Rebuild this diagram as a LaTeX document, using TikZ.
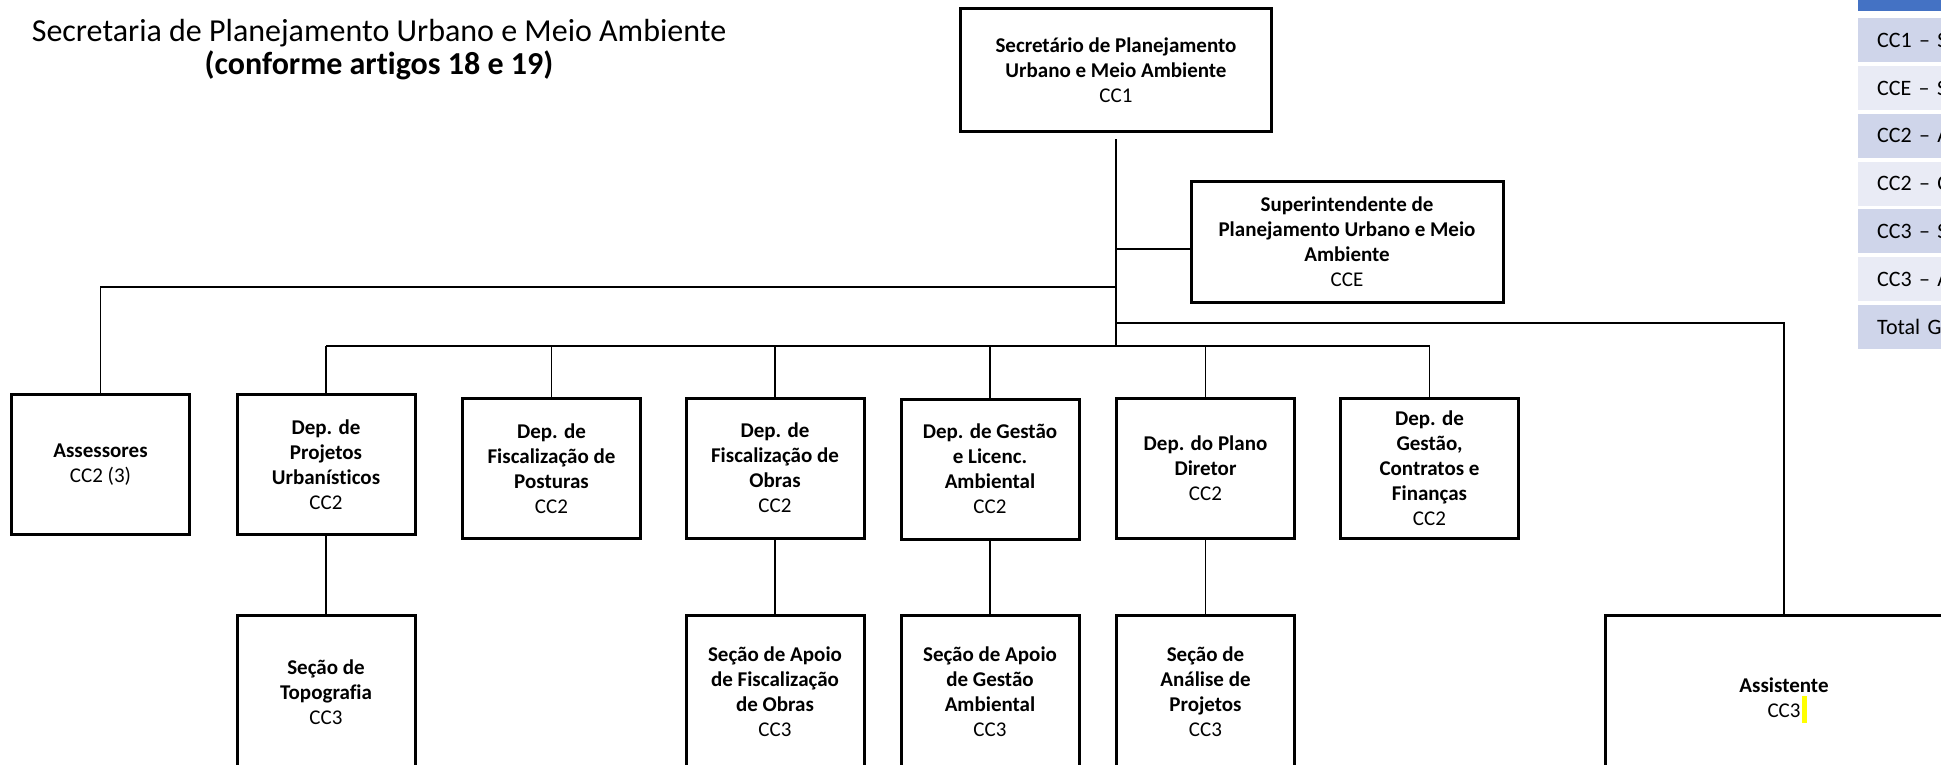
\documentclass[tikz,border=0pt]{standalone}
\usepackage{fontspec}
\setmainfont{Carlito}[Ligatures=CommonOff]
\usetikzlibrary{calc}

\definecolor{hdrblue}{HTML}{4472C4}
\definecolor{bandA}{HTML}{CFD5EA}
\definecolor{bandB}{HTML}{E9EBF5}
\definecolor{hlyellow}{HTML}{FFFF00}

\tikzset{
  orgbox/.style={draw, line width=3pt, inner sep=0pt, minimum width=178pt, minimum height=140pt,
    align=center, font=\fontsize{21}{25}\selectfont\bfseries},
  conn/.style={line width=1.3pt},
  tabrow/.style={anchor=west, inner xsep=19pt, inner ysep=0pt, text width=300pt, minimum height=44pt,
    align=left, font=\fontsize{22}{26}\selectfont},
  titletext/.style={anchor=base, inner sep=0pt, font=\fontsize{32}{36}\selectfont}
}

\begin{document}
\begin{tikzpicture}[x=1pt,y=-1pt]
        \useasboundingbox (0,0) rectangle (1941,765);
        \fill[white] (0,0) rectangle (1941,765);
        \clip (0,0) rectangle (1941,765);

        % Title
        \node[titletext] (title) at (379,42) {Secretaria de Planejamento Urbano e Meio Ambiente};
        \node[titletext, font=\fontsize{32}{36}\selectfont\bfseries] (subtitle) at (379,75) {(conforme artigos 18 e 19)};

        % Top boxes
        \node[orgbox, minimum width=311pt, minimum height=123pt] (sec) at (1116,70.5)
            {Secretário de Planejamento\\Urbano e Meio Ambiente\\{\mdseries CC1}};
        \node[orgbox, minimum width=312pt, minimum height=121pt] (sup) at (1347,242)
            {Superintendente de\\Planejamento Urbano e Meio\\Ambiente\\{\mdseries CCE}};

        % Departments
        \node[orgbox] (ass) at (100.5,464.5) {Assessores\\{\mdseries CC2 (3)}};
        \node[orgbox] (proj) at (326,464.5) {Dep. de\\Projetos\\Urbanísticos\\{\mdseries CC2}};
        \node[orgbox] (post) at (551.5,468.5) {Dep. de\\Fiscalização de\\Posturas\\{\mdseries CC2}};
        \node[orgbox] (obras) at (775,468) {Dep. de\\Fiscalização de\\Obras\\{\mdseries CC2}};
        \node[orgbox] (gest) at (990,469) {Dep. de Gestão\\e Licenc.\\Ambiental\\{\mdseries CC2}};
        \node[orgbox] (plano) at (1205.5,468) {Dep. do Plano\\Diretor\\{\mdseries CC2}};
        \node[orgbox] (fin) at (1429.5,468) {Dep. de\\Gestão,\\Contratos e\\Finanças\\{\mdseries CC2}};

        % Sections
        \node[orgbox, minimum height=154pt] (topo) at (326,692) {Seção de\\Topografia\\{\mdseries CC3}};
        \node[orgbox, minimum height=154pt] (apobras) at (775,692) {Seção de Apoio\\de Fiscalização\\de Obras\\{\mdseries CC3}};
        \node[orgbox, minimum height=154pt] (apgest) at (990,692) {Seção de Apoio\\de Gestão\\Ambiental\\{\mdseries CC3}};
        \node[orgbox, minimum height=154pt] (analise) at (1205.5,692) {Seção de\\Análise de\\Projetos\\{\mdseries CC3}};
        \node[orgbox, minimum width=358pt, minimum height=166pt] (assist) at (1784,698) {Assistente\\{\mdseries CC3}};
        \fill[hlyellow] (1802,696) rectangle (1807,723);

        % Connectors
        \coordinate (dline) at (1116,346);
        \coordinate (supin) at ([yshift=-7pt]sup.west);
        \draw[conn] ([yshift=-6pt]sec.south) -- (dline);
        \draw[conn] (sec.south |- supin) -- (supin);
        \draw[conn] (sec.south |- 0,287) -| (ass.north);
        \draw[conn] (sec.south |- 0,323) -| (assist.north);
        \draw[conn] (proj.north |- dline) -- (fin.north |- dline);
        \foreach \d in {proj,post,obras,gest,plano,fin}
            \draw[conn] (\d.north |- dline) -- (\d.north);
        \foreach \a/\b in {proj/topo, obras/apobras, gest/apgest, plano/analise}
            \draw[conn] (\a.south) -- (\b.north);

        % Table of posts
        \fill[hdrblue] (1858,-5) rectangle (2200,11);
        \foreach \lbl/\col [count=\i from 0] in {CC1 – S/bandA, CCE – S/bandB, CC2 – A/bandA, CC2 – C/bandB, CC3 – S/bandA, CC3 – A/bandB, Total G/bandA}
            \node[tabrow, fill=\col] (row\i) at (1858,40.5+47.7*\i) {\lbl};
    \end{tikzpicture}
\end{document}
